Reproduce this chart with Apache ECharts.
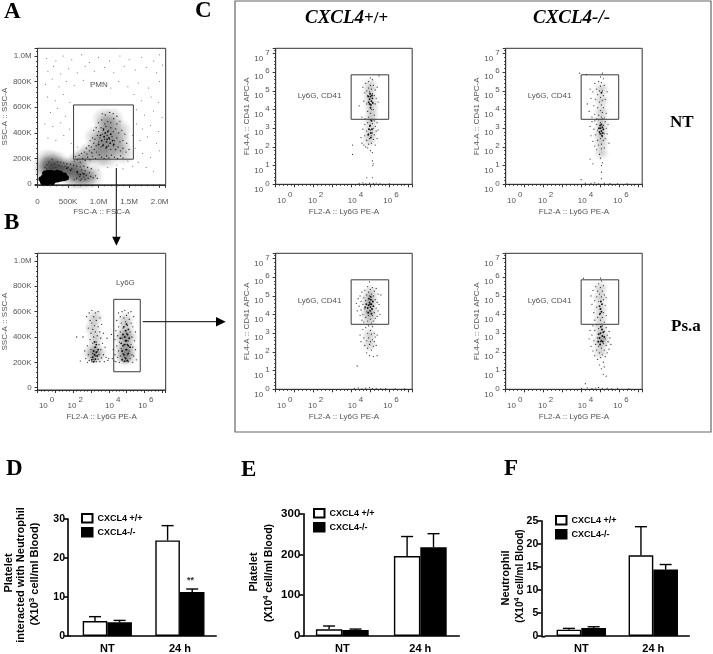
<!DOCTYPE html>
<html>
<head>
<meta charset="utf-8">
<script src="https://cdn.jsdelivr.net/npm/echarts@6/dist/echarts.min.js"></script>
<style>html,body{margin:0;padding:0;background:#fff}#main{width:713px;height:654px}</style>
</head>
<body>
<div id="main"></div>
<script>
// bar panels, values
const groups = ["NT", "24 h"];
const wtName = "CXCL4 +/+";
const koName = "CXCL4-/-";
const plateletNeutWt = [3.85, 24.5];
const plateletNeutWtTop = [4.96, 28.3];
const plateletNeutKo = [3.5, 11.3];
const plateletNeutKoTop = [4.0, 12.05];
const plateletWt = [16.3, 196];
const plateletWtTop = [24.5, 244];
const plateletKo = [14.7, 217.5];
const plateletKoTop = [17, 251];
const neutWt = [1.37, 17.5];
const neutWtTop = [1.65, 23.7];
const neutKo = [1.72, 14.4];
const neutKoTop = [2.0, 15.5];

// gates
const gateA = [[590,195],[1570,195],[1570,618],[590,618],[590,195]];
const gateB = [[4.28,126],[5.77,126],[5.77,697],[4.28,697],[4.28,126]];
const gateC = [[3.98,3.48],[5.96,3.48],[5.96,5.86],[3.98,5.86],[3.98,3.48]];

// panel A, FSC (K) / SSC (K)
const aCore = [[80,25],[130,20],[180,30],[230,25],[280,30],[330,35],[380,40],[430,45],[470,50],[100,55],[150,60],[200,65],[250,60],[300,65],[350,70],[400,72],[440,70],[120,85],[170,90],[220,90],[270,85],[320,90],[370,85],[60,40],[90,12],[160,10],[240,12]];
const aHaze = [[1140,370],[1050,330],[1230,350],[1100,440],[1200,440],[1000,280],[1130,270],[1260,270],[1350,330],[950,370],[1350,420],[880,250],[780,220],[1080,510],[1230,510],[1400,240],[1150,210],[1000,210],[700,180],[620,160],
[100,140],[180,130],[260,140],[340,130],[420,130],[500,120],[150,190],[240,180],[330,170],[600,110],[700,90],[800,75],[900,60],[580,40],[680,50],[780,40],[140,100],[280,100],[400,100],[520,90]];
const aDense = [[1050,340],[1090,370],[1130,330],[1170,360],[1110,400],[1150,410],[1200,390],[1070,300],[1130,290],[1190,320],[1030,380],[1230,340],[1000,310],[1250,310],[1080,430],[1140,350],[650,95],[700,75],[760,80],[480,125],[540,110]];
const aMid = [[640,45],[690,60],[720,40],[760,55],[800,70],[830,45],[870,60],[910,50],[950,65],[980,45],[660,80],[740,85],[700,30],[780,35],[600,35],[650,100],[720,110],[780,105],[850,90],[560,120],[500,130],[450,140],[400,135],[350,145],[300,130],[250,125],[200,125],[150,120],[280,160],[220,150],[180,170],[330,175],[380,170],[430,165],[480,160],[540,155],[590,145],[640,140],[700,135],[760,140],[820,130],[880,120],[150,150],[240,195],[120,130],
[600,180],[650,190],[700,170],[740,200],[780,185],[820,210],[860,190],[900,215],[950,200],[620,215],[680,225],[720,240],[770,250],[810,235],[850,260],[890,245],[930,270],[970,250],[1010,230],[1050,210],[1090,200],[1130,220],[1170,205],[1210,225],[1260,210],[1310,200],[1360,220],[1400,205],
[800,280],[840,300],[880,290],[920,320],[960,300],[1000,330],[1040,290],[1080,310],[1120,280],[1160,300],[1200,270],[1240,300],[1280,270],[1320,290],[1360,260],[1400,280],[1450,250],[1500,270],
[860,340],[900,360],[940,350],[980,380],[1020,360],[1060,390],[1100,350],[1140,380],[1180,350],[1220,370],[1260,340],[1300,360],[1350,330],[1400,340],[1460,320],
[920,420],[960,440],[1000,410],[1040,440],[1080,420],[1120,450],[1160,420],[1200,440],[1240,410],[1280,430],[1330,400],[1380,420],[1430,390],[1000,480],[1050,500],[1100,470],[1150,490],[1200,480],[1250,510],[1300,470],[1350,490],[1110,540],[1180,560],[1240,550],[1300,530],[1060,550]];
const aSparse = [[150,980],[300,960],[420,1000],[560,970],[720,1010],[850,950],[1000,990],[1180,960],[1350,1000],[1500,970],[1700,990],[1900,960],[2000,1010],[170,880],[260,920],[380,860],[510,900],[650,870],[780,920],[930,880],[1100,910],[1250,870],[1420,920],[1600,890],[1780,910],[1950,870],[2050,930],[130,780],[240,820],[350,760],[470,800],[600,770],[750,810],[890,760],[1040,790],[1200,750],[1330,800],[1480,760],[1650,790],[1820,750],[2000,800],[160,680],[290,650],[420,700],[530,640],[1580,700],[1700,650],[1860,680],[1980,640],[210,560],[330,590],[460,530],[1620,580],[1750,540],[1900,570],[2040,520],[120,470],[250,450],[380,480],[520,430],[1620,470],[1720,430],[1850,460],[1980,410],[170,360],[300,340],[430,380],[550,320],[650,290],[1560,380],[1680,340],[1800,370],[1950,320],[1600,280],[1720,240],[1850,210],[2000,260],[1480,180],[1560,140],[1650,170],[1780,130],[1300,150],[1400,120],[1150,130],[1000,110],[1900,100]];

// panel B, log10 FL2 / SSC (K)
const bDots = [[4.2,230],[4.25,300],[4.3,210],[4.35,380],[4.35,260],[4.4,450],[4.4,205],[4.45,330],[4.45,530],[4.5,240],[4.5,410],[4.55,290],[4.55,590],[4.55,480],[4.6,200],[4.6,360],[4.65,250],[4.65,440],[4.65,560],[4.7,310],[4.7,510],[4.75,220],[4.75,390],[4.75,600],[4.8,270],[4.8,470],[4.85,205],[4.85,340],[4.85,550],[4.9,240],[4.9,610],[4.95,300],[4.95,520],[5,210],[5,430],[5,570],[5.05,260],[5.05,490],[5.1,205],[5.1,370],[5.1,590],[5.15,290],[5.15,540],[5.2,230],[5.2,440],[5.25,340],[5.25,510],[5.25,600],[5.3,260],[5.3,400],[5.35,200],[5.35,320],[5.35,480],[5.4,560],[5.4,250],[5.45,370],[5.5,300],[5.5,440],[4.15,420],[5.55,220],
[2.55,400],[2.65,290],[2.7,230],[2.75,560],[2.8,200],[2.8,330],[2.85,260],[2.85,470],[2.9,590],[2.9,215],[2.95,380],[2.95,530],[3,240],[3,300],[3,430],[3.05,205],[3.05,510],[3.05,610],[3.1,270],[3.1,350],[3.1,460],[3.15,225],[3.15,560],[3.15,400],[3.2,320],[3.2,210],[3.2,490],[3.25,250],[3.25,590],[3.25,440],[3.3,360],[3.3,205],[3.3,530],[3.35,285],[3.35,410],[3.4,225],[3.4,480],[3.4,600],[3.45,340],[3.45,260],[3.5,205],[3.5,440],[3.5,550],[3.55,300],[3.55,390],[3.6,235],[3.6,500],[3.65,350],[3.7,260],[3.7,430],[3.75,205],[3.8,320],[3.85,240],[3.9,390],[2.4,210],[2.2,400],[3.95,215],[4,230]];
const bDense = [[4.7,350],[4.75,290],[4.8,420],[4.85,260],[4.85,480],[4.9,340],[4.9,400],[4.95,230],[4.95,450],[5,300],[5,370],[5,500],[5.05,340],[5.05,420],[5.1,270],[5.1,460],[4.8,330],[4.95,370],[5.15,390],[5.2,320],[4.75,220],[5.05,215],[4.9,210],[4.65,390],[5.1,330],
[3.15,290],[3.25,320],[3.2,260],[3.3,280],[3.1,240],[3.25,225],[3.35,250],[3.3,340],[3.2,360],[3.05,220],[3.4,300],[3.15,205]];
const bHaze = [[4.95,250],[4.95,320],[4.95,390],[4.95,460],[4.95,530],[4.75,300],[5.15,300],[4.75,400],[5.15,400],[4.8,240],[5.1,240],[3.2,250],[3.2,310],[3.25,390],[3.1,470],[3.2,550],[3,270],[3.45,270]];

// panel C, log10 FL2 / log10 FL4
const wtNtDots = [[4.6,5.2],[4.7,4.9],[4.75,5.4],[4.8,4.3],[4.8,5],[4.85,3.9],[4.85,4.75],[4.9,5.5],[4.9,5.15],[4.9,3.6],[4.95,4.95],[5,5.7],[5,5.3],[5,3.8],[5.05,5.1],[5.05,4],[5.1,5.6],[5.1,4.85],[5.15,5.3],[5.15,4],[5.2,4.75],[5.2,3.7],[5.25,5.05],[5.25,4.3],[5.3,4.6],[5.35,5.2],[5.4,4.4],[5.45,5.8],[4.65,4.45],[4.4,4.2],[4.55,3.6],[4.7,3.5],
[4.5,2.5],[4.55,2.2],[4.6,2.95],[4.65,2.1],[4.7,3.2],[4.7,2.6],[4.75,2],[4.8,2.85],[4.8,2.35],[4.85,3.3],[4.85,1.95],[4.9,2.7],[4.9,2.15],[4.95,3.1],[4.95,2.45],[5,3.45],[5,2.9],[5,1.8],[5.05,2.6],[5.05,2.2],[5.1,3.25],[5.1,2.75],[5.1,1.7],[5.15,3],[5.15,2.4],[5.2,3.4],[5.2,2.65],[5.25,3.1],[5.25,2.1],[5.3,2.85],[5.35,3.3],[5.35,2.45],[5.4,2.9],
[4.05,2.1],[4.05,1.6],[5.1,1.25],[5.15,1.1],[5.12,1],[4.8,0.35],[5.1,0.35],[4.4,0.05],[4.6,0.08],[4.75,0.03],[4.95,0.06],[5.15,0.04],[5.3,0.07],[5.5,0.03],[6,0.02]];
const wtNtDense = [[4.95,4.55],[5.05,4.45],[5,4.7],[5.1,4.6],[4.9,4.4],[5.02,4.25],[4.98,4.85],[5.12,4.35],[4.88,4.7],[5.08,4.75],[5,4.1],[4.92,2.95],[5.02,2.75],[4.98,3.15],[5.08,2.95],[4.88,2.65],[5.02,2.5],[5.05,3.4],[4.95,4.3]];
const wtNtHaze = [[5,4.5],[4.95,4.9],[5.05,4.1],[5,5.3],[5,3.3],[5,2.8],[4.95,2.4],[5.05,3.7]];
const koNtDots = [[4.3,4.3],[4.4,3.9],[4.45,5.1],[4.5,4.6],[4.55,3.6],[4.6,4.95],[4.65,4.2],[4.7,5.4],[4.7,3.75],[4.75,4.55],[4.8,5.1],[4.8,3.5],[4.85,4.8],[4.85,4.1],[4.9,5.5],[4.9,3.7],[4.95,5],[4.95,4.4],[5,5.75],[5,5.25],[5,4.65],[5,3.95],[5.05,5.45],[5.05,4.25],[5.05,3.6],[5.1,5],[5.1,4.5],[5.1,3.85],[5.15,5.65],[5.15,4.75],[5.15,4.1],[5.2,5.3],[5.2,3.55],[5.25,4.55],[5.3,3.8],[5.35,4.95],[3.9,5.95],[4.25,5.88],[5.1,5.95],
[4.45,3.1],[4.5,2.6],[4.55,3.35],[4.6,2.3],[4.65,2.95],[4.7,3.4],[4.7,2.05],[4.75,2.65],[4.8,3.2],[4.8,1.85],[4.85,2.9],[4.85,2.35],[4.9,3.45],[4.9,2.1],[4.95,2.7],[4.95,1.6],[5,3.3],[5,2.45],[5,1.4],[5.05,2.15],[5.05,1.9],[5.1,3.5],[5.1,2.55],[5.1,1.15],[5.15,3.15],[5.15,2.35],[5.2,2.7],[5.2,1.95],[5.25,3.35],[5.25,2.45],[5.3,3],[5.35,2.7],[5.4,3.2],[5.45,2.2],[5.05,1],[5.05,0.65],[5.05,0.3],[4.45,1.35],[4.6,1.1],[3.98,0.25],
[4.2,0.06],[4.5,0.04],[4.7,0.08],[4.9,0.03],[5.2,0.06],[5.5,0.04],[5.9,0.02],[6.4,0.03]];
const koNtDense = [[5,3],[5.05,2.85],[5.1,3.05],[4.95,2.8],[5.05,3.2],[5.12,2.75],[4.98,3.15],[5.08,2.6],[4.92,3],[5.15,2.95],[5.02,2.7],[5.05,4.9]];
const koNtHaze = [[5.05,3],[5,2.6],[5.05,3.4],[5.05,2.2],[5.05,3.9],[5.05,4.5],[5.05,5.1],[5.05,1.7]];
const wtPsaDots = [[4.25,4.6],[4.3,4.2],[4.35,4.85],[4.4,4.45],[4.45,3.95],[4.45,5],[4.5,4.7],[4.5,4.25],[4.55,5.2],[4.55,3.7],[4.6,4.55],[4.6,4],[4.65,4.9],[4.65,3.6],[4.7,5.3],[4.7,4.3],[4.75,4.75],[4.75,3.85],[4.8,5.05],[4.8,4.15],[4.85,5.5],[4.85,3.65],[4.9,5.2],[4.9,3.95],[4.95,5.75],[4.95,5],[5,5.35],[5,3.75],[5.05,5.1],[5.05,3.55],[5.1,5.45],[5.1,3.95],[5.15,5],[5.15,3.65],[5.2,5.25],[5.2,4.1],[5.25,4.8],[5.25,3.8],[5.3,5.4],[5.3,4.35],[5.35,4.65],[5.35,3.9],[5.4,5.1],[5.4,4.2],[5.45,4.55],[5.5,4],[5.55,5.05],
[4.45,2.9],[4.5,2.55],[4.6,3.2],[4.65,2.75],[4.7,2.35],[4.75,3.3],[4.8,2.6],[4.8,1.95],[4.85,3],[4.85,2.2],[4.9,3.4],[4.9,2.75],[4.95,2.4],[4.95,1.8],[5,3.15],[5,2.55],[5.05,2.95],[5.05,2.1],[5.1,3.35],[5.1,2.65],[5.15,2.3],[5.15,1.75],[5.2,3],[5.2,2.55],[5.25,2.8],[5.3,2.35],[5.35,2.9],[5.35,1.8],[4.3,1.25],
[4.15,0.05],[4.35,0.08],[4.55,0.03],[4.75,0.06],[4.95,0.09],[5.1,0.04],[5.3,0.05],[5.55,0.03],[5.8,0.04],[6.3,0.03],[6.8,0.02]];
const wtPsaDense = [[4.9,4.5],[5,4.4],[4.95,4.65],[5.05,4.55],[4.85,4.35],[4.98,4.2],[5.08,4.3],[4.92,4.85],[5.02,4.8],[4.78,4.55],[5.12,4.7],[4.88,4.1],[5.05,4.05],[5.15,4.45],[4.72,4.4],[4.98,4.55],[5.02,4.95]];
const wtPsaHaze = [[4.95,4.45],[4.85,4.8],[5.05,4.1],[4.85,4.1],[5.05,4.8],[4.95,3.7],[5,5.2],[4.95,2.9],[4.95,2.4]];
const koPsaDots = [[4.5,5],[4.55,4.55],[4.6,5.3],[4.65,4.1],[4.7,4.75],[4.7,3.7],[4.75,5.5],[4.8,4.95],[4.8,4.4],[4.85,5.25],[4.85,3.85],[4.9,5.65],[4.9,4.7],[4.95,5.1],[4.95,4],[5,5.45],[5,3.7],[5.05,5.8],[5.05,4.95],[5.1,5.25],[5.1,3.85],[5.15,4.8],[5.15,5.55],[5.15,4.1],[5.2,5.05],[5.2,3.6],[5.25,4.5],[5.3,4.9],[5.3,3.95],[4.1,5.95],[5,5.95],
[4.4,2.7],[4.45,3.15],[4.5,2.3],[4.55,2.9],[4.6,3.4],[4.6,2.05],[4.65,2.6],[4.7,3.15],[4.7,1.8],[4.75,2.4],[4.8,3.45],[4.8,2.1],[4.85,2.75],[4.85,1.6],[4.9,3.25],[4.9,2.3],[4.95,1.95],[4.95,1.3],[5,2.55],[5,1.7],[5.05,2.2],[5.05,1.1],[5.1,3.4],[5.1,1.85],[5.15,2.45],[5.15,1.45],[5.2,3.1],[5.2,2.1],[5.25,2.7],[5.25,1.75],[5.3,3.3],[5.3,2.35],[5.35,2.9],[5.35,1.95],[5.4,2.55],[5.45,3.1],[5.45,2.15],[5.5,2.75],[5.55,2.4],[5.2,1.2],[5.3,0.7],[5.15,0.8],[4.2,0.3],[4,0.05],[4.3,0.08],[4.55,0.04],[4.75,0.07],[4.9,0.1],[5.1,0.05],[5.35,0.06],[5.6,0.03],[5.9,0.05],[6.5,0.03]];
const koPsaDense = [[5,3],[5.1,2.85],[4.95,2.75],[5.05,2.6],[5.15,3.05],[4.9,2.95],[5.08,3.2],[4.98,2.4],[5.12,2.55],[5.02,3.35],[4.88,2.55],[5.2,2.8],[5,4.3],[5.05,4.15],[4.95,4.45],[5.08,4.55],[4.98,4.05],[5.02,4.7]];
const koPsaHaze = [[5.05,2.9],[4.95,2.5],[5.15,2.6],[5,3.3],[5,2],[5,4.3],[5,3.8],[5,4.9],[5,5.4]];

const sans = "Liberation Sans";
const serif = "Liberation Serif";
const gray = "#555";
const lineCol = "#333";

const grid = [], xAxis = [], yAxis = [], series = [], legend = [], graphic = [];

function dots(i, data, size, color) {
  series.push({
    type: "scatter", xAxisIndex: i, yAxisIndex: i, data: data, symbolSize: size,
    itemStyle: { color: color || "#2a2a2a", opacity: 1 }, silent: true,
  });
}
// soft grey under the stippled clouds
function haze(i, data, size, alpha) {
  dots(i, data, size, new echarts.graphic.RadialGradient(0.5, 0.5, 0.5, [
    { offset: 0, color: "rgba(0,0,0," + alpha + ")" },
    { offset: 1, color: "rgba(0,0,0,0)" },
  ]));
}
function gate(i, data) {
  series.push({
    type: "line", xAxisIndex: i, yAxisIndex: i, data: data, symbol: "none", silent: true,
    lineStyle: { color: "#3a3a3a", width: 1 },
  });
}
const axisBits = {
  axisLine: { show: true, onZero: false, lineStyle: { color: lineCol, width: 1 } },
  axisTick: { show: true, length: 3, lineStyle: { color: lineCol, width: 1 } },
  minorTick: { show: true, splitNumber: 5, length: 1.5, lineStyle: { color: lineCol, width: 1 } },
  splitLine: { show: false },
};
const labelBase = { color: gray, fontFamily: sans, fontSize: 8 };
const expRich = {
  b: Object.assign({}, labelBase),
  b0: Object.assign({ padding: [0, 0, 0, 18] }, labelBase),
  b2: Object.assign({ padding: [0, 0, 0, 4] }, labelBase),
  b4: Object.assign({ padding: [0, 0, 0, 8] }, labelBase),
  b6: Object.assign({ padding: [0, 0, 0, 3] }, labelBase),
  e: Object.assign({ padding: [0, 0, 12, 2] }, labelBase),
};
function expX(v) {
  return v % 2 === 0 ? "{b" + v + "|10}{e|" + v + "}" : "";
}
function expY(v) {
  return Number.isInteger(v) ? "{b|10}{e|" + v + "}" : "";
}
function kLabel(v) {
  if (v === 0) return "0";
  if (v % 200 !== 0) return "";
  return v >= 1000 ? (v / 1000).toFixed(1) + "M" : v + "K";
}
function flowName(text, gap) {
  return { name: text, nameLocation: "middle", nameGap: gap, nameTextStyle: { color: gray, fontFamily: sans, fontSize: 8 } };
}
function tickText(extra) {
  return Object.assign({ color: gray, fontFamily: sans, fontSize: 8 }, extra);
}

// panel C plots share one layout
function cPlot(left, top, dotData, denseData, hazeData) {
  const i = grid.length;
  grid.push({ left: left, top: top, width: 136.5, height: 136, show: true, borderColor: lineCol, borderWidth: 1 });
  xAxis.push(Object.assign({
    type: "value", gridIndex: i, min: 0, max: 7.2, interval: 1,
    axisLabel: tickText({ margin: 6, formatter: expX, rich: expRich, showMaxLabel: false }),
  }, axisBits, flowName("FL2-A :: Ly6G PE-A", 23)));
  yAxis.push(Object.assign({
    type: "value", gridIndex: i, min: 0, max: 7.28, interval: 1,
    axisLabel: tickText({ margin: 6, padding: [10, 0, 0, 0], formatter: expY, rich: expRich, showMaxLabel: false }),
  }, axisBits, flowName("FL4-A :: CD41 APC-A", 19)));
  haze(i, hazeData, 16, 0.2);
  dots(i, dotData, 1.2);
  dots(i, denseData, 1.9, "#111");
  gate(i, gateC);
  graphic.push({ type: "text", left: left + 22, top: top + 43.5, style: { text: "Ly6G, CD41", fill: gray, font: "8px " + sans } });
}

// A
grid.push({ left: 29.3, top: 48.3, width: 136.4, height: 136.5, show: true, borderColor: lineCol, borderWidth: 1 });
xAxis.push(Object.assign({
  type: "value", gridIndex: 0, min: 0, max: 2100, interval: 500,
  axisLabel: tickText({ margin: 13, formatter: (v) => (v === 0 ? "0" : v % 500 ? "" : v >= 1000 ? (v / 1000).toFixed(1) + "M" : v + "K") }),
}, axisBits, flowName("FSC-A :: FSC-A", 23)));
yAxis.push(Object.assign({
  type: "value", gridIndex: 0, min: -5, max: 1060, splitNumber: 5,
  axisLabel: tickText({ margin: 6, formatter: kLabel }),
}, axisBits, flowName("SSC-A :: SSC-A", 22)));
haze(0, aHaze, 24, 0.24);
dots(0, aSparse, 1, "#555");
dots(0, aMid, 1.4);
dots(0, aDense, 1.8, "#111");
dots(0, aCore, 5.5, "#000");
gate(0, gateA);
graphic.push({ type: "text", left: 90, top: 81, style: { text: "PMN", fill: gray, font: "8px " + sans } });

// B
grid.push({ left: 29.3, top: 253.3, width: 136.4, height: 136.7, show: true, borderColor: lineCol, borderWidth: 1 });
xAxis.push(Object.assign({
  type: "value", gridIndex: 1, min: 0, max: 7.2, interval: 1,
  axisLabel: tickText({ margin: 6, formatter: expX, rich: expRich, showMaxLabel: false }),
}, axisBits, flowName("FL2-A :: Ly6G PE-A", 23)));
yAxis.push(Object.assign({
  type: "value", gridIndex: 1, min: -18, max: 1060, splitNumber: 5,
  axisLabel: tickText({ margin: 6, formatter: kLabel }),
}, axisBits, flowName("SSC-A :: SSC-A", 22)));
haze(1, bHaze, 18, 0.22);
dots(1, bDots, 1.3);
dots(1, bDense, 1.9, "#111");
gate(1, gateB);
graphic.push({ type: "text", left: 116, top: 279, style: { text: "Ly6G", fill: gray, font: "8px " + sans } });

// C
cPlot(275.7, 48.3, wtNtDots, wtNtDense, wtNtHaze);
cPlot(505.7, 48.3, koNtDots, koNtDense, koNtHaze);
cPlot(275.7, 253.3, wtPsaDots, wtPsaDense, wtPsaHaze);
cPlot(505.7, 253.3, koPsaDots, koPsaDense, koPsaHaze);

// bars with an upper error whisker
function barPanel(cfg) {
  const i = grid.length;
  grid.push({ left: cfg.left, top: cfg.top, width: cfg.width, height: cfg.height });
  xAxis.push({
    type: "category", gridIndex: i, data: groups,
    axisLine: { onZero: false, lineStyle: { color: "#000", width: 1.6 } },
    axisTick: { show: false },
    axisLabel: { color: "#000", fontFamily: sans, fontWeight: "bold", fontSize: 11, margin: 7 },
  });
  yAxis.push({
    type: "value", gridIndex: i, min: 0, max: cfg.max, interval: cfg.step, offset: cfg.offset,
    axisLine: { show: true, lineStyle: { color: "#000", width: 1.6 } },
    axisTick: { show: true, length: 4, lineStyle: { color: "#000", width: 1.6 } },
    axisLabel: { color: "#000", fontFamily: sans, fontWeight: "bold", fontSize: cfg.tickSize, margin: 3 },
    splitLine: { show: false },
  });
  const bw = cfg.barWidth;
  [[wtName, cfg.wt, cfg.wtTop, "#fff", -bw / 2], [koName, cfg.ko, cfg.koTop, "#000", bw / 2]].forEach((s) => {
    series.push({
      name: s[0], type: "bar", xAxisIndex: i, yAxisIndex: i, data: s[1], barWidth: bw, barGap: 0, silent: true,
      itemStyle: { color: s[3], borderColor: "#000", borderWidth: 1.4 },
    });
    series.push({
      type: "custom", xAxisIndex: i, yAxisIndex: i, silent: true, z: 1,
      data: s[1].map((v, k) => [k, v, s[2][k]]),
      encode: { x: 0, y: [1, 2] },
      renderItem: (params, api) => {
        const lo = api.coord([api.value(0), api.value(1)]);
        const hi = api.coord([api.value(0), api.value(2)]);
        const x = lo[0] + s[4];
        const st = { stroke: "#000", lineWidth: 1.4, fill: null };
        return {
          type: "group",
          children: [
            { type: "line", shape: { x1: x, y1: lo[1], x2: x, y2: hi[1] }, style: st },
            { type: "line", shape: { x1: x - 6, y1: hi[1], x2: x + 6, y2: hi[1] }, style: st },
          ],
        };
      },
    });
  });
  legend.push({
    left: cfg.legendLeft, top: cfg.legendTop, orient: "vertical", itemWidth: 10.5, itemHeight: 8.5, itemGap: 3.5, padding: 0,
    selectedMode: false, data: [{ name: wtName, icon: "rect" }, { name: koName, icon: "rect" }],
    textStyle: { color: "#000", fontFamily: sans, fontWeight: "bold", fontSize: 9 },
  });
  if (cfg.offset) {
    // axis line between y axis and first band
    graphic.push({ type: "line", shape: { x1: cfg.left - cfg.offset, y1: cfg.top + cfg.height, x2: cfg.left, y2: cfg.top + cfg.height }, style: { stroke: "#000", lineWidth: 1.6 } });
  }
}
barPanel({ left: 71, top: 519, width: 145.2, height: 117, max: 30, step: 10, offset: 3, tickSize: 10.5, barWidth: 24.6,
  wt: plateletNeutWt, wtTop: plateletNeutWtTop, ko: plateletNeutKo, koTop: plateletNeutKoTop, legendLeft: 81, legendTop: 513 });
barPanel({ left: 303.3, top: 513.7, width: 156, height: 122.3, max: 300, step: 100, offset: 0, tickSize: 11.5, barWidth: 26.4,
  wt: plateletWt, wtTop: plateletWtTop, ko: plateletKo, koTop: plateletKoTop, legendLeft: 313, legendTop: 508 });
barPanel({ left: 545.3, top: 520.7, width: 144, height: 116, max: 25, step: 5, offset: 4, tickSize: 10.5, barWidth: 24.7,
  wt: neutWt, wtTop: neutWtTop, ko: neutKo, koTop: neutKoTop, legendLeft: 555, legendTop: 515 });

// panel letters and headings
function letter(t, x, y) {
  graphic.push({ type: "text", x: x, y: y, style: { text: t, fill: "#000", font: "bold 23px " + serif } });
}
letter("A", 4, 1); letter("B", 4, 212); letter("C", 195, 0);
letter("D", 6, 458); letter("E", 241, 459); letter("F", 504, 458);

const headRich = {
  i: { font: "italic bold 19px " + serif, fill: "#000" },
  r: { font: "bold 17px " + serif, fill: "#000" },
};
graphic.push({ type: "text", x: 305, y: 9, style: { text: "{i|CXCL4}{r|+/+}", rich: headRich } });
graphic.push({ type: "text", x: 533, y: 9, style: { text: "{i|CXCL4-/-}", rich: headRich } });
graphic.push({ type: "text", x: 670, y: 114, style: { text: "NT", fill: "#000", font: "bold 17px " + serif } });
graphic.push({ type: "text", x: 671, y: 318, style: { text: "Ps.a", fill: "#000", font: "bold 17px " + serif } });

// frame round panel C
graphic.push({ type: "rect", shape: { x: 235, y: 1, width: 476, height: 431 }, style: { fill: null, stroke: "#666", lineWidth: 1.2 }, z: -1 });

// arrows
graphic.push({ type: "line", shape: { x1: 116.3, y1: 168, x2: 116.3, y2: 238 }, style: { stroke: "#000", lineWidth: 1 } });
graphic.push({ type: "polygon", shape: { points: [[112.2, 236.7], [120.7, 236.7], [116.4, 245.7]] }, style: { fill: "#000" } });
graphic.push({ type: "line", shape: { x1: 142.7, y1: 321.7, x2: 217, y2: 321.7 }, style: { stroke: "#000", lineWidth: 1 } });
graphic.push({ type: "polygon", shape: { points: [[216, 317], [216, 326.4], [225.7, 321.7]] }, style: { fill: "#000" } });

// bar panel y titles, rotated
function vText(x, y, text, size) {
  graphic.push({
    type: "text", x: x, y: y, rotation: Math.PI / 2,
    style: {
      text: text, align: "center", verticalAlign: "middle", fill: "#000",
      font: "bold " + size + "px " + sans,
      rich: { s: { font: "bold " + (size - 3) + "px " + sans, fill: "#000", padding: [0, 0, 6, 0] } },
    },
  });
}
vText(8.7, 573, "Platelet", 11);
vText(20.7, 575, "interacted with Neutrophil", 11);
vText(35, 574, "(X10{s|3} cell/ml Blood)", 11);
vText(254, 572, "Platelet", 11);
vText(269, 573, "(X10{s|4} cell/ml Blood)", 10.5);
vText(506, 578, "Neutrophil", 11);
vText(520, 576, "(X10{s|4} cell/ml Blood)", 10);
graphic.push({ type: "text", x: 187, y: 576, style: { text: "**", fill: "#333", font: "bold 9px " + sans } });

const myChart = echarts.init(document.getElementById("main"), null, { renderer: "canvas" });
myChart.setOption({
  animation: false,
  backgroundColor: "#fff",
  grid: grid, xAxis: xAxis, yAxis: yAxis, series: series, legend: legend,
  graphic: { elements: graphic },
});
</script>
</body>
</html>
